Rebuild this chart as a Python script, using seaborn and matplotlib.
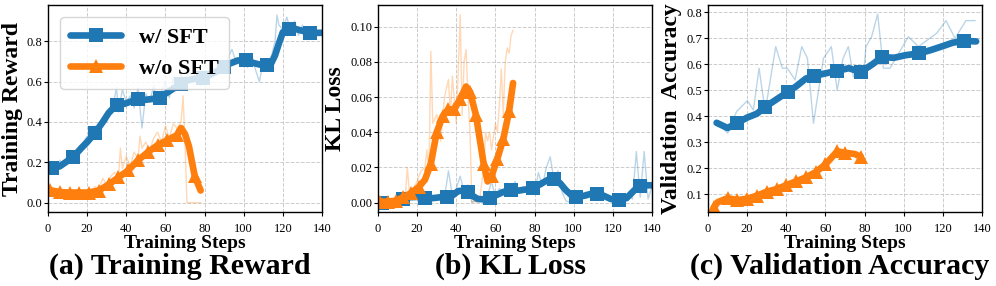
import numpy as np
import matplotlib
matplotlib.use("Agg")
import matplotlib.pyplot as plt
import seaborn as sns

# ---------------- data ----------------
# (a) training reward, raw curves
reward_sft_x = [0, 2, 4, 6, 8, 10, 12, 14, 16, 18, 20, 22, 24, 26, 28, 30, 32, 34, 35, 36, 38, 40, 42, 44, 46,
                48, 50, 52, 54, 56, 58, 60, 62, 64, 66, 68, 70, 72, 74, 76, 78, 80, 82, 84, 86, 88, 90, 92, 94,
                96, 98, 100, 102, 104, 106, 108, 110, 112, 114, 116, 117, 118, 120, 122, 124, 126, 128, 130,
                132, 134, 136, 138, 140]
reward_sft_raw = [0.16, 0.18, 0.17, 0.21, 0.19, 0.22, 0.24, 0.21, 0.28, 0.30, 0.33, 0.31, 0.38, 0.36, 0.42, 0.40,
                  0.47, 0.52, 0.57, 0.45, 0.56, 0.50, 0.53, 0.47, 0.57, 0.37, 0.54, 0.50, 0.58, 0.49, 0.55, 0.60,
                  0.52, 0.62, 0.57, 0.64, 0.59, 0.66, 0.60, 0.63, 0.58, 0.65, 0.61, 0.67, 0.63, 0.70, 0.66, 0.72,
                  0.76, 0.70, 0.69, 0.71, 0.67, 0.74, 0.66, 0.60, 0.70, 0.66, 0.72, 0.80, 0.93, 0.88, 0.86, 0.92,
                  0.85, 0.90, 0.83, 0.88, 0.82, 0.86, 0.84, 0.85, 0.84]
reward_nosft_x = [0, 2, 4, 6, 8, 10, 12, 14, 16, 18, 20, 22, 24, 26, 28, 30, 32, 34, 36, 37, 38, 40, 42, 44, 46,
                  47, 48, 50, 52, 54, 56, 58, 60, 62, 64, 66, 68, 69, 70, 71, 72, 74, 76, 78]
reward_nosft_raw = [0.07, 0.05, 0.06, 0.04, 0.05, 0.06, 0.04, 0.05, 0.06, 0.04, 0.05, 0.06, 0.08, 0.07, 0.12,
                    0.09, 0.13, 0.15, 0.12, 0.27, 0.17, 0.23, 0.18, 0.25, 0.22, 0.33, 0.27, 0.30, 0.26, 0.32,
                    0.35, 0.30, 0.38, 0.32, 0.39, 0.37, 0.40, 0.53, 0.30, 0.0, 0.0, 0.0, 0.0, 0.0]
# (a) smoothed curves
reward_sft_sx = [0, 2, 6, 9, 13, 17, 20, 24, 28, 31, 35, 39, 42, 46, 50, 54, 57, 60, 64, 68, 71, 75, 79, 83, 86,
                 90, 93, 97, 101, 104, 108, 112, 114, 116, 118, 120, 123, 126, 130, 134, 137, 140]
reward_sft_smooth = [0.17, 0.17, 0.18, 0.20, 0.228, 0.27, 0.30, 0.345, 0.40, 0.445, 0.485, 0.49, 0.50, 0.515,
                     0.51, 0.515, 0.52, 0.54, 0.565, 0.59, 0.605, 0.615, 0.62, 0.635, 0.65, 0.675, 0.69, 0.705,
                     0.705, 0.695, 0.685, 0.68, 0.69, 0.73, 0.79, 0.845, 0.862, 0.862, 0.852, 0.843, 0.842,
                     0.842]
sft_marks_a = [2, 13, 24, 35, 46, 57, 68, 79, 90, 101, 112, 123, 134]
reward_nosft_sx = [1, 6, 11, 16, 21, 26, 31, 36, 41, 46, 51, 56, 61, 66, 68, 70, 72, 75, 78]
reward_nosft_smooth = [0.062, 0.052, 0.05, 0.05, 0.05, 0.06, 0.09, 0.125, 0.16, 0.21, 0.25, 0.285, 0.31, 0.335,
                       0.37, 0.34, 0.28, 0.13, 0.06]
nosft_marks_a = [1, 6, 11, 16, 21, 26, 31, 36, 41, 46, 51, 56, 61, 66, 75]

# (b) KL loss, raw curves
kl_sft_x = list(range(0, 141, 2))
kl_sft_raw = [0.0, 0.001, -0.001, 0.002, 0.0, 0.003, 0.001, 0.003, 0.002, 0.004, 0.002, 0.003, 0.001, 0.002,
              0.004, 0.002, 0.005, 0.003, 0.018, 0.004, 0.008, 0.015, 0.006, 0.010, 0.0, 0.001, 0.003, 0.002,
              0.004, 0.012, 0.003, 0.008, 0.006, 0.011, 0.007, 0.012, 0.005, 0.009, 0.007, 0.010, 0.006, 0.017,
              0.009, 0.020, 0.026, 0.012, 0.018, 0.006, 0.001, 0.0, 0.001, 0.0, 0.003, 0.006, 0.004, 0.007,
              0.003, 0.005, 0.002, 0.001, 0.004, 0.0, 0.003, 0.001, 0.005, 0.002, 0.029, 0.003, 0.029, 0.002,
              0.009]
kl_nosft_x = [0, 2, 4, 6, 8, 10, 12, 14, 15, 16, 18, 20, 22, 24, 25, 26, 27, 28, 30, 32, 34, 36, 37, 38, 40, 41,
              42, 43, 44, 45, 46, 47, 48, 49, 50, 52, 54, 55, 56, 57, 58, 60, 61, 62, 63, 64, 65, 66, 67, 68, 69]
kl_nosft_raw = [0.0, 0.001, 0.0, 0.002, 0.0, 0.001, 0.003, 0.004, 0.020, 0.006, 0.008, 0.012, 0.018, 0.020,
                0.030, 0.015, 0.086, 0.045, 0.050, 0.035, 0.060, 0.070, 0.050, 0.072, 0.045, 0.075, 0.107,
                0.050, 0.080, 0.087, 0.060, 0.040, 0.0, 0.001, 0.0, 0.002, 0.020, 0.040, 0.035, 0.040, 0.030,
                0.045, 0.040, 0.055, 0.076, 0.050, 0.080, 0.088, 0.085, 0.095, 0.098]
# (b) smoothed curves
kl_sft_sx = [0, 2, 6, 10, 13, 16, 20, 24, 28, 32, 35, 38, 41, 44, 46, 48, 51, 54, 57, 61, 64, 68, 72, 76, 79,
             83, 87, 90, 93, 96, 99, 101, 106, 109, 112, 115, 119, 123, 127, 131, 134, 137, 140]
kl_sft_smooth = [-0.0005, -0.0005, 0.0, 0.001, 0.002, 0.003, 0.0032, 0.0025, 0.0025, 0.003, 0.003, 0.004,
                 0.0065, 0.0068, 0.006, 0.004, 0.002, 0.0018, 0.0025, 0.0045, 0.006, 0.007, 0.0068, 0.0075,
                 0.008, 0.0105, 0.013, 0.0135, 0.011, 0.007, 0.004, 0.003, 0.004, 0.005, 0.005, 0.004, 0.002,
                 0.0015, 0.0025, 0.007, 0.0095, 0.0098, 0.0098]
sft_marks_b = [2, 13, 24, 35, 46, 57, 68, 79, 90, 101, 112, 123, 134]
kl_nosft_sx = [1, 5, 9, 13, 17, 21, 24, 27, 30, 33, 36, 39, 42, 45, 47, 50, 52, 54, 56, 58, 61, 64, 67, 69]
kl_nosft_smooth = [0.0005, 0.0005, 0.001, 0.003, 0.0055, 0.009, 0.013, 0.022, 0.040, 0.049, 0.053, 0.053,
                   0.059, 0.066, 0.063, 0.050, 0.036, 0.022, 0.012, 0.015, 0.025, 0.036, 0.052, 0.068]
nosft_marks_b = [1, 5, 9, 13, 17, 21, 27, 30, 33, 36, 39, 42, 47, 50, 54, 58, 61, 64, 67]

# (c) validation accuracy
val_sft_x = [4.4, 10.1, 14.6, 20.1, 23.2, 26.1, 29.2, 34.6, 38, 40.5, 44.5, 47.9, 50.8, 53.9, 59, 63, 66, 69,
             71.7, 74.3, 79.4, 80.7, 83.6, 86.7, 89.6, 93, 102.4, 107.5, 116.8, 121.6, 126.2, 131.8, 136.4]
val_sft_raw = [0.379, 0.335, 0.418, 0.46, 0.424, 0.585, 0.418, 0.668, 0.585, 0.585, 0.54, 0.668, 0.623,
               0.373, 0.623, 0.668, 0.50, 0.623, 0.668, 0.552, 0.552, 0.668, 0.706, 0.793, 0.585, 0.585,
               0.706, 0.668, 0.719, 0.768, 0.70, 0.768, 0.768]
val_sft_sx = [4.4, 10, 15, 20, 25, 29, 35, 41, 45, 50, 54, 60, 66, 72, 78, 84, 89, 95, 101, 108, 114, 120, 125,
              131, 137]
val_sft_smooth = [0.375, 0.355, 0.375, 0.395, 0.41, 0.435, 0.465, 0.495, 0.515, 0.545, 0.555, 0.565, 0.575,
                  0.585, 0.57, 0.60, 0.628, 0.625, 0.635, 0.642, 0.655, 0.67, 0.683, 0.69, 0.688]
sft_marks_c = [15, 29, 41, 54, 66, 78, 89, 108, 131]
val_nosft_x = [3, 5, 10, 15, 20, 25, 30, 35, 40, 45, 50, 55, 60, 66, 70, 75, 78]
val_nosft_smooth = [0.05, 0.07, 0.085, 0.078, 0.083, 0.095, 0.11, 0.12, 0.135, 0.15, 0.165, 0.185, 0.215,
                    0.265, 0.26, 0.255, 0.245]
nosft_marks_c = [3, 10, 15, 20, 25, 30, 35, 40, 45, 50, 55, 60, 66, 70, 78]

BLUE = "#1f77b4"
ORANGE = "#ff7f0e"

plt.rcParams["font.family"] = "serif"
plt.rcParams["font.serif"] = ["Liberation Serif", "DejaVu Serif"]


def marks(xs, wanted):
    return [i for i, v in enumerate(xs) if v in wanted]


def draw_raw(ax, x, y, color):
    sns.lineplot(x=x, y=y, ax=ax, color=color, lw=1.0, alpha=0.3, estimator=None, sort=False)


def draw_smooth(ax, x, y, color, marker, every, label=None):
    sns.lineplot(x=x, y=y, ax=ax, color=color, lw=4.8, marker=marker, markersize=10,
                 markeredgewidth=0, markevery=marks(x, every), estimator=None, sort=False,
                 solid_capstyle="round", solid_joinstyle="round", label=label)


fig = plt.figure(figsize=(9.96, 2.86), dpi=100)
W, H = 996, 286
axes = []
for left in (48, 378, 708):
    axes.append(fig.add_axes([left / W, (H - 212) / H, 274 / W, 207 / H]))
ax_a, ax_b, ax_c = axes

# (a)
draw_raw(ax_a, reward_sft_x, reward_sft_raw, BLUE)
draw_raw(ax_a, reward_nosft_x, reward_nosft_raw, ORANGE)
draw_smooth(ax_a, reward_sft_sx, reward_sft_smooth, BLUE, "s", sft_marks_a, "w/ SFT")
draw_smooth(ax_a, reward_nosft_sx, reward_nosft_smooth, ORANGE, "^", nosft_marks_a, "w/o SFT")
ax_a.set_ylim(-0.0465, 0.98)
ax_a.set_yticks([0.0, 0.2, 0.4, 0.6, 0.8])
ax_a.set_ylabel("Training Reward", fontsize=17, fontweight="bold", labelpad=3)

# (b)
draw_raw(ax_b, kl_sft_x, kl_sft_raw, BLUE)
draw_raw(ax_b, kl_nosft_x, kl_nosft_raw, ORANGE)
draw_smooth(ax_b, kl_sft_sx, kl_sft_smooth, BLUE, "s", sft_marks_b)
draw_smooth(ax_b, kl_nosft_sx, kl_nosft_smooth, ORANGE, "^", nosft_marks_b)
ax_b.set_ylim(-0.0054, 0.1124)
ax_b.set_yticks([0.0, 0.02, 0.04, 0.06, 0.08, 0.10])
ax_b.set_yticklabels(["0.00", "0.02", "0.04", "0.06", "0.08", "0.10"])
ax_b.set_ylabel("KL Loss", fontsize=17, fontweight="bold", labelpad=3)

# (c)
draw_raw(ax_c, val_sft_x, val_sft_raw, BLUE)
draw_smooth(ax_c, val_sft_sx, val_sft_smooth, BLUE, "s", sft_marks_c)
draw_smooth(ax_c, val_nosft_x, val_nosft_smooth, ORANGE, "^", nosft_marks_c)
ax_c.set_ylim(0.032, 0.828)
ax_c.set_yticks([0.1, 0.2, 0.3, 0.4, 0.5, 0.6, 0.7, 0.8])
ax_c.set_ylabel("Validation  Accuracy", fontsize=17, fontweight="bold", labelpad=3)

titles = ["(a) Training Reward", "(b) KL Loss", "(c) Validation Accuracy"]
for ax, title in zip(axes, titles):
    ax.set_xlim(0, 140)
    ax.set_xticks([0, 20, 40, 60, 80, 100, 120, 140])
    ax.tick_params(axis="x", labelsize=9, pad=5, length=3)
    ax.tick_params(axis="y", labelsize=9, pad=1, length=3)
    ax.set_xlabel("Training Steps", fontsize=14, fontweight="bold", labelpad=0)
    ax.grid(True, ls="--", color="#cccccc", lw=0.7)
    ax.set_axisbelow(True)
    for s in ax.spines.values():
        s.set_linewidth(1.0)
    if ax is not ax_a and ax.get_legend() is not None:
        ax.get_legend().remove()
    pos = ax.get_position()
    fig.text(pos.x0 + pos.width / 2 - 5 / W, (H - 266) / H, title, fontsize=21.5, fontweight="bold",
             ha="center", va="center")

leg = ax_a.legend(loc="upper left", bbox_to_anchor=(0.044, 0.942), borderaxespad=0,
                  prop={"size": 16, "weight": "bold"}, handlelength=2.3, handletextpad=0.8,
                  labelspacing=0.5, borderpad=0.45, framealpha=0.8, fancybox=True)
leg.get_frame().set_edgecolor("#cccccc")

fig.savefig("out.png", dpi=100)
